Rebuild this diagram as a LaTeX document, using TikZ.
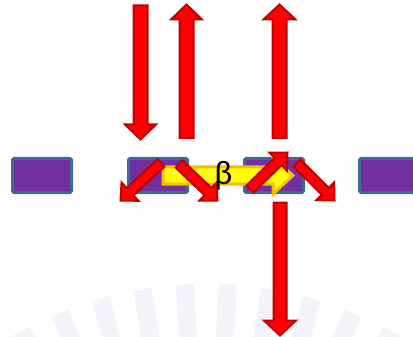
\documentclass[tikz,border=0pt]{standalone}
\usepackage{fontspec}
\setmainfont{Carlito}
\usetikzlibrary{calc}
\definecolor{redfill}{RGB}{255,0,0}
\definecolor{redline}{RGB}{192,0,0}
\definecolor{boxfill}{RGB}{112,48,160}
\definecolor{boxline}{RGB}{65,105,150}
\definecolor{yelfill}{RGB}{255,255,0}
\definecolor{yelline}{RGB}{255,184,0}
\definecolor{wmark}{RGB}{243,243,249}
\tikzset{
  redarrow/.style={fill=redfill,draw=redline,line width=2,line join=miter},
  yelarrow/.style={fill=yelfill,draw=yelline,line width=3,line join=miter},
  sitebox/.style={fill=boxfill,draw=boxline,line width=3,rounded corners=1.5},
  wbar/.style={fill=wmark,draw=none}
}
% #1 style, #2 tail, #3 tip, #4 shaft half width, #5 head half width, #6 head length (pt)
\newcommand{\blockarrow}[6]{%
  \coordinate (hb) at ($(#3)!#6pt!(#2)$);
  \draw[#1] ($(#2)!#4pt!90:(#3)$) -- ($(hb)!#4pt!90:(#3)$) -- ($(hb)!#5pt!90:(#3)$)
    -- (#3) -- ($(hb)!#5pt!-90:(#3)$) -- ($(hb)!#4pt!-90:(#3)$) -- ($(#2)!#4pt!-90:(#3)$) -- cycle;
}
\begin{document}
\begin{tikzpicture}[x=1pt,y=-1pt]
\clip (0,0) rectangle (413,337);
\fill[white] (0,0) rectangle (413,337);
% faint watermark
\foreach \a in {3.175,9.525,15.875,22.225,28.575,-3.175,-9.525,-15.875,-22.225,-28.575}
  \fill[wbar,rotate around={\a:(206.5,671)}] (197.5,284) rectangle (215.5,420);
% sites
\draw[sitebox] (12.5,158.5) rectangle (71.5,192.5);
\draw[sitebox] (128.5,158.5) rectangle (187.5,192.5);
\draw[sitebox] (244.5,158.5) rectangle (303.5,192.5);
\draw[sitebox] (359.5,158.5) rectangle (440,192.5);
% coordinates
\coordinate (a1t) at (140.5,5.5);   \coordinate (a1h) at (140.5,139.5);
\coordinate (a2t) at (186.5,138); \coordinate (a2h) at (186.5,4.5);
\coordinate (a3t) at (279.5,138); \coordinate (a3h) at (279.5,4.5);
\coordinate (a4t) at (280,202.5);   \coordinate (a4h) at (280,335.5);
\coordinate (yt) at (163,175.5);  \coordinate (yh) at (293,175.5);
\coordinate (d1t) at (161,163);   \coordinate (d1h) at (120.5,200.5);
\coordinate (d2t) at (179,164);   \coordinate (d2h) at (217.5,200.5);
\coordinate (d3t) at (250,189);   \coordinate (d3h) at (287.5,152.5);
\coordinate (d4t) at (297,163);   \coordinate (d4h) at (334.5,200.5);
% vertical arrows
\blockarrow{redarrow}{a1t}{a1h}{7}{15.5}{15}
\blockarrow{redarrow}{a2t}{a2h}{7}{15.5}{15}
\blockarrow{redarrow}{a3t}{a3h}{7}{16}{15}
\blockarrow{redarrow}{a4t}{a4h}{6.5}{16}{15}
% yellow arrow
\blockarrow{yelarrow}{yt}{yh}{8.5}{18.5}{20}
% diagonal arrows
\blockarrow{redarrow}{d1t}{d1h}{5}{12.5}{13}
\blockarrow{redarrow}{d2t}{d2h}{5}{12.5}{13}
\blockarrow{redarrow}{d3t}{d3h}{5}{12.5}{13}
\blockarrow{redarrow}{d4t}{d4h}{5}{12.5}{13}
\node[font=\fontsize{34}{34}\selectfont,inner sep=0] (beta) at (223.5,175.5) {β};
\end{tikzpicture}
\end{document}
